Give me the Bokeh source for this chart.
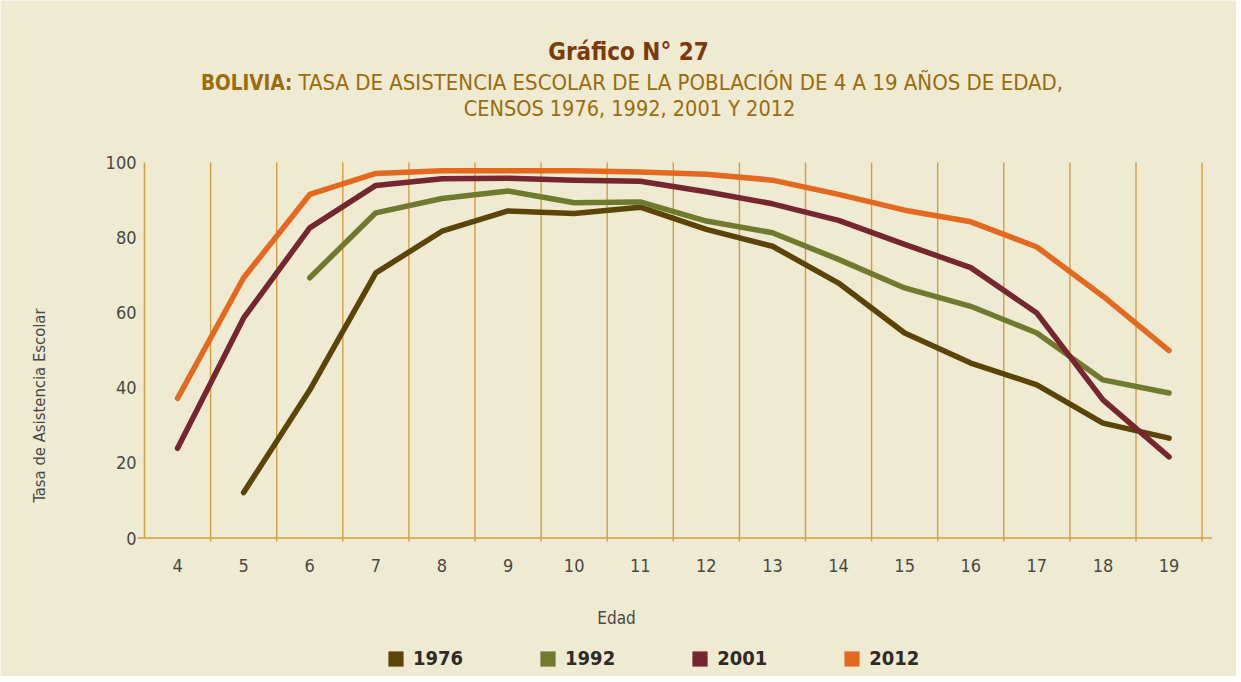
import math
from bokeh.plotting import figure
from bokeh.models import Range1d, Label, Legend, LegendItem
from bokeh.core.properties import value
from bokeh.embed import file_html
from bokeh.resources import INLINE

# ---- data ----
ages = [4, 5, 6, 7, 8, 9, 10, 11, 12, 13, 14, 15, 16, 17, 18, 19]
tasa_1976 = [None, 12.1, 39.4, 70.6, 81.7, 87.1, 86.4, 88.1, 82.2, 77.7, 67.9, 54.6, 46.6, 40.8, 30.6, 26.6]
tasa_1992 = [None, None, 69.3, 86.6, 90.4, 92.4, 89.3, 89.5, 84.4, 81.3, 74.2, 66.6, 61.7, 54.6, 42.1, 38.6]
tasa_2001 = [23.9, 58.6, 82.6, 93.9, 95.7, 95.8, 95.3, 95.0, 92.2, 89.0, 84.6, 78.2, 72.0, 59.9, 36.8, 21.6]
tasa_2012 = [37.2, 69.3, 91.5, 97.1, 97.8, 97.8, 97.8, 97.5, 96.9, 95.3, 91.5, 87.3, 84.2, 77.5, 64.4, 49.9]
series_names = ["1976", "1992", "2001", "2012"]
series_values = [tasa_1976, tasa_1992, tasa_2001, tasa_2012]
series_colors = ["#5b4408", "#6f7a2e", "#76262f", "#e2691f"]
y_ticks = [0, 20, 40, 60, 80, 100]

FONT = "DejaVu Sans Condensed, Liberation Sans, sans-serif"
BG = "#efead2"
GRID = "#d49d40"
TICK_TXT = "#4a4843"
SUB = "#9a6c0c"

W, H = 1236, 676
# pixel geometry of the plotting area inside the figure
X_LEFT_PX, X_UNIT_PX = 144.0, 66.1      # x = 3.5 at 144 px
Y_ZERO_PX, Y_UNIT_PX = 537.5, 3.755     # y = 0 at 537.5 px (from top)
x0 = ages[0] - 0.5
x_start = x0 - X_LEFT_PX / X_UNIT_PX
x_end = x0 + (W - X_LEFT_PX) / X_UNIT_PX
y_start = -(H - Y_ZERO_PX) / Y_UNIT_PX
y_end = Y_ZERO_PX / Y_UNIT_PX

p = figure(width=W, height=H, output_backend="svg", toolbar_location=None,
           x_range=Range1d(x_start, x_end), y_range=Range1d(y_start, y_end),
           x_axis_location=None, y_axis_location=None,
           min_border=0, background_fill_color=BG, border_fill_color=BG,
           outline_line_color=None)
p.grid.visible = False

# vertical lines at category boundaries (incl. the y axis line)
boundaries = [a - 0.5 for a in ages] + [ages[-1] + 0.5]
p.segment(x0=boundaries[:1], x1=boundaries[:1], y0=[0], y1=[y_ticks[-1]],
          line_color=GRID, line_width=1.6)
p.segment(x0=boundaries[1:], x1=boundaries[1:], y0=[-0.9] * (len(boundaries) - 1),
          y1=[y_ticks[-1]] * (len(boundaries) - 1), line_color=GRID, line_width=1.4)
# x axis line
p.segment(x0=[ages[0] - 0.6], x1=[ages[-1] + 0.65], y0=[0], y1=[0],
          line_color=GRID, line_width=1.6)

# tick labels
p.text(x=ages, y=[0] * len(ages), text=[str(a) for a in ages], y_offset=27,
       text_font=value(FONT), text_font_size="18px", text_color=TICK_TXT,
       text_align="center", text_baseline="middle")
p.text(x=[x0] * len(y_ticks), y=y_ticks, text=[str(t) for t in y_ticks], x_offset=-8,
       text_font=value(FONT), text_font_size="18px", text_color=TICK_TXT,
       text_align="right", text_baseline="middle")

# lines
items = []
for name, vals, col in zip(series_names, series_values, series_colors):
    xs = [a for a, v in zip(ages, vals) if v is not None]
    ys = [v for v in vals if v is not None]
    p.line(xs, ys, line_color=col, line_width=5.5, line_cap="round", line_join="round")
    # zero-area quads at the data points: invisible in the plot, give square legend swatches
    sw = p.quad(left=xs, right=xs, top=ys, bottom=ys, fill_color=col, line_color=None)
    items.append(LegendItem(label=name, renderers=[sw], index=0))

legend = Legend(items=items, orientation="horizontal", location=(386, 6),
                glyph_width=19, glyph_height=19, label_standoff=8, spacing=75,
                padding=0, margin=0, border_line_color=None, background_fill_alpha=0,
                label_text_font=FONT, label_text_font_size="20px", label_text_font_style="bold",
                label_text_color="#2e2a25")
p.add_layout(legend, "center")

# texts, positioned by page pixel (figure starts ~1px into the page)
def lab(text, px, py, **kw):
    p.add_layout(Label(x=px - 1, y=H + 1 - py, x_units="screen", y_units="screen",
                       text=text, text_font=FONT, **kw))

lab("Gráfico N° 27", 629, 52, text_font_size="24px", text_font_style="bold",
    text_color="#7b3a0c", text_align="center", text_baseline="middle")
lab("BOLIVIA:", 293, 83, text_font_size="20.5px", text_font_style="bold",
    text_color=SUB, text_align="right", text_baseline="middle")
lab("TASA DE ASISTENCIA ESCOLAR DE LA POBLACIÓN DE 4 A 19 AÑOS DE EDAD,", 299, 83,
    text_font_size="22px", text_color=SUB, text_align="left", text_baseline="middle")
lab("CENSOS 1976, 1992, 2001 Y 2012", 630, 109, text_font_size="21.5px",
    text_color=SUB, text_align="center", text_baseline="middle")
lab("Tasa de Asistencia Escolar", 40, 406, text_font_size="16.5px", text_color=TICK_TXT,
    text_align="center", text_baseline="middle", angle=math.pi / 2)
lab("Edad", 617, 618, text_font_size="17px", text_color=TICK_TXT,
    text_align="center", text_baseline="middle")

open("out.html", "w").write(file_html(p, INLINE))
